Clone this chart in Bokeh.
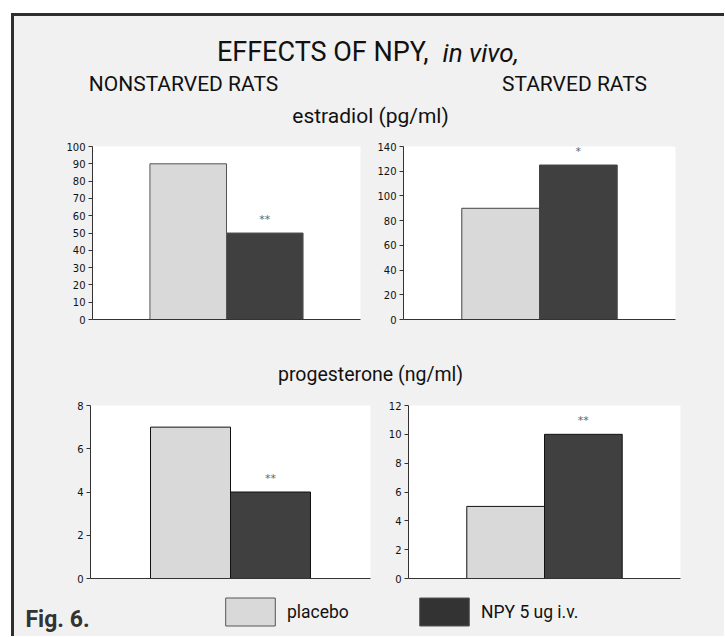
from bokeh.plotting import figure
from bokeh.models import (Range1d, FixedTicker, Label,
                          Legend, LegendItem, ColumnDataSource)
from bokeh.layouts import column, row
from bokeh.embed import file_html
from bokeh.resources import INLINE
from bokeh.core.properties import value

# ---------------- data ----------------
groups = ["placebo", "NPY 5 ug i.v."]
group_colors = ["#d9d9d9", "#404040"]

estradiol_nonstarved = [90, 50]
estradiol_starved = [90, 125]
progesterone_nonstarved = [7, 4]
progesterone_starved = [5, 10]

marks_estradiol_nonstarved = ["", "**"]
marks_estradiol_starved = ["", "*"]
marks_progesterone_nonstarved = ["", "**"]
marks_progesterone_starved = ["", "**"]

ticks_estradiol_nonstarved = [0, 10, 20, 30, 40, 50, 60, 70, 80, 90, 100]
ticks_estradiol_starved = [0, 20, 40, 60, 80, 100, 120, 140]
ticks_progesterone_nonstarved = [0, 2, 4, 6, 8]
ticks_progesterone_starved = [0, 2, 4, 6, 8, 10, 12]

title_main = "EFFECTS OF NPY,"
title_italic = "in vivo,"
col_titles = ["NONSTARVED RATS", "STARVED RATS"]
row_titles = ["estradiol (pg/ml)", "progesterone (ng/ml)"]
fig_label = "Fig. 6."

# ---------------- styles ----------------
BG = "#f1f1f1"
HEAD_FONT = "Roboto"
TICK_FONT = "DejaVu Sans"
PAD = 0.75  # empty category space on each side of the bar pair
W = 710


def blank(w, h):
    p = figure(width=w, height=h, x_range=Range1d(0, w), y_range=Range1d(0, h),
               x_axis_location=None, y_axis_location=None, min_border=0,
               toolbar_location=None, output_backend="svg",
               background_fill_color=BG, border_fill_color=BG, outline_line_color=None)
    p.grid.visible = False
    return p


def panel(vals, marks, ymax, ticks, w, h, left, right, top, bottom, edge):
    xs = [i + 0.5 for i, _ in enumerate(groups)]
    src = ColumnDataSource(dict(x=xs, v=vals, c=group_colors))
    keep = [i for i, m in enumerate(marks) if m]
    msrc = ColumnDataSource(dict(x=[xs[i] for i in keep], v=[vals[i] for i in keep],
                                 m=[marks[i] for i in keep]))
    x0, x1 = -PAD, len(groups) + PAD
    p = figure(x_range=Range1d(x0, x1), y_range=Range1d(0, ymax), width=w, height=h,
               x_axis_location="below", y_axis_location="left",
               toolbar_location=None, output_backend="svg",
               min_border_left=left, min_border_right=right,
               min_border_top=top, min_border_bottom=bottom,
               background_fill_color="white", border_fill_color=BG,
               outline_line_color=None)
    p.grid.visible = False
    p.vbar(x="x", top="v", width=1.0, fill_color="c", line_color=edge,
           line_width=1, source=src)
    p.text(x="x", y="v", text="m", text_align="center", text_baseline="bottom",
           y_offset=-7, text_font_size="11px", text_color="#666666",
           text_font=value(TICK_FONT), source=msrc)
    ya = p.yaxis[0]
    ya.ticker = FixedTicker(ticks=ticks)
    ya.major_tick_out = 4
    ya.major_tick_in = 0
    ya.minor_tick_line_color = None
    ya.axis_line_color = "#333333"
    ya.major_tick_line_color = "#333333"
    ya.major_label_text_font = TICK_FONT
    ya.major_label_text_font_size = "10px"
    ya.major_label_text_color = "#111111"
    ya.major_label_standoff = 3
    xa = p.xaxis[0]
    xa.ticker = FixedTicker(ticks=[])
    xa.major_tick_line_color = None
    xa.minor_tick_line_color = None
    xa.axis_line_color = "#333333"
    return p


# ---------------- header ----------------
header = blank(W, 120)
header.add_layout(Label(x=414, y=69, text=title_main, text_font=HEAD_FONT,
                        text_font_size="27px", text_align="right", text_color="#111111"))
header.add_layout(Label(x=428, y=69, text=title_italic, text_font=HEAD_FONT,
                        text_font_size="26px", text_font_style="italic",
                        text_align="left", text_color="#111111"))
header.add_layout(Label(x=169, y=41, text=col_titles[0], text_font=HEAD_FONT,
                        text_font_size="21px", text_align="center", text_color="#111111"))
header.add_layout(Label(x=560, y=41, text=col_titles[1], text_font=HEAD_FONT,
                        text_font_size="21px", text_align="center", text_color="#111111"))
header.add_layout(Label(x=356, y=9, text=row_titles[0], text_font=HEAD_FONT,
                        text_font_size="21px", text_align="center", text_color="#111111"))

# ---------------- top row ----------------
tl = panel(estradiol_nonstarved, marks_estradiol_nonstarved, 100,
           ticks_estradiol_nonstarved, 358, 212, 78, 12, 8, 27, "#555555")
tr = panel(estradiol_starved, marks_estradiol_starved, 140,
           ticks_estradiol_starved, 352, 212, 31, 49, 10, 29, "#444444")

# ---------------- middle ----------------
mid = blank(W, 48)
mid.add_layout(Label(x=356, y=11, text=row_titles[1], text_font=HEAD_FONT,
                     text_font_size="19.5px", text_align="center", text_color="#111111"))

# ---------------- bottom row ----------------
bl = panel(progesterone_nonstarved, marks_progesterone_nonstarved, 8,
           ticks_progesterone_nonstarved, 366, 194, 76, 10, 8, 12, "#111111")
br = panel(progesterone_starved, marks_progesterone_starved, 12,
           ticks_progesterone_starved, 344, 194, 28, 44, 9, 12, "#111111")

# ---------------- footer ----------------
footer = blank(W, 46)
footer.add_layout(Label(x=11, y=4, text=fig_label, text_font=HEAD_FONT,
                        text_font_size="23px", text_font_style="bold",
                        text_align="left", text_color="#333333"))
# legend swatches: renderers kept outside the visible footer range
r1 = footer.vbar(x=[-1000], top=[0], width=1, fill_color=group_colors[0], line_color="#555555")
r2 = footer.vbar(x=[-1000], top=[0], width=1, fill_color="#333333", line_color="#555555")
for r, lab, loc in [(r1, groups[0], (205, 7)), (r2, groups[1], (399, 7))]:
    lg = Legend(items=[LegendItem(label=lab, renderers=[r])], location=loc,
                glyph_width=62, glyph_height=35, label_standoff=6,
                padding=0, margin=0, border_line_color=None,
                background_fill_alpha=0, label_text_font=HEAD_FONT,
                label_text_font_size="17.5px", label_text_color="#111111")
    footer.add_layout(lg)

layout = column(header, row(tl, tr), mid, row(bl, br), footer,
                styles={"margin-left": "11px", "margin-top": "13px",
                        "border-left": "3px solid #2e2e2e",
                        "border-top": "3px solid #2e2e2e",
                        "background-color": BG})

open("out.html", "w").write(file_html(layout, INLINE))
